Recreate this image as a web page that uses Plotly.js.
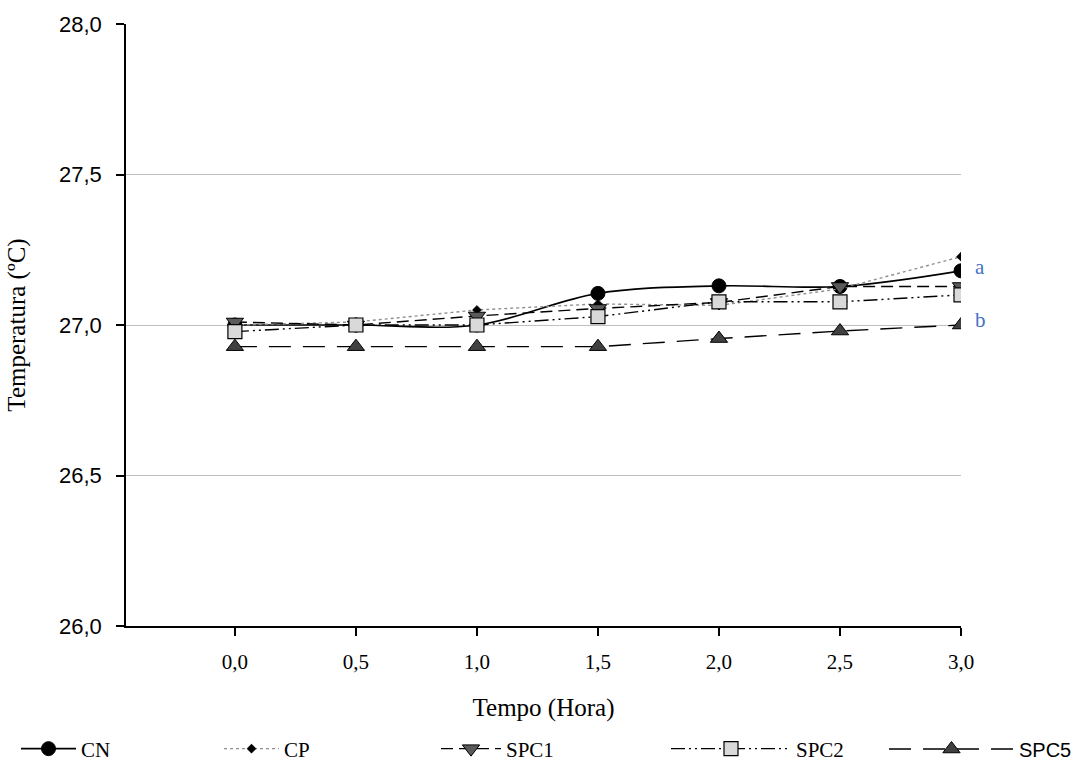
<!DOCTYPE html>
<html>
<head>
<meta charset="utf-8">
<script src="https://cdn.plot.ly/plotly-3.0.1.min.js"></script>
<style>html,body{margin:0;padding:0;background:#fff;}#chart{width:1083px;height:764px;}</style>
</head>
<body>
<div id="chart"></div>
<script>
var tempo = [0, 0.5, 1.0, 1.5, 2.0, 2.5, 3.0];
var CN   = [27.00, 27.00, 27.00, 27.105, 27.13, 27.128, 27.18];
var CP   = [27.00, 27.01, 27.05, 27.07, 27.065, 27.12, 27.227];
var SPC1 = [27.01, 27.00, 27.03, 27.055, 27.075, 27.128, 27.128];
var SPC2 = [26.978, 27.00, 27.00, 27.028, 27.077, 27.077, 27.10];
var SPC5 = [26.928, 26.928, 26.928, 26.928, 26.955, 26.98, 27.00];
var seriesNames = ['CN', 'CP', 'SPC1', 'SPC2', 'SPC5'];
var xTicks = [0, 0.5, 1.0, 1.5, 2.0, 2.5, 3.0];
var yTicks = [26.0, 26.5, 27.0, 27.5, 28.0];
var letters = ['a', 'b'];
var letterY = [27.193, 27.017];

var serif = 'Liberation Serif, Times New Roman, serif';
var sans = 'Liberation Sans, Arial, sans-serif';

var traces = [
  {x: tempo, y: CN, name: seriesNames[0], legend: 'legend', mode: 'lines+markers',
   line: {color: '#000', width: 1.6, shape: 'spline', smoothing: 1},
   marker: {symbol: 'circle', size: 14, color: '#000', line: {color: '#000', width: 1}}},
  {x: tempo, y: CP, name: seriesNames[1], legend: 'legend2', mode: 'lines+markers',
   line: {color: '#909090', width: 1.4, dash: 'dot'},
   marker: {symbol: 'diamond', size: 7, color: '#000', line: {color: '#000', width: 0.5}}},
  {x: tempo, y: SPC1, name: seriesNames[2], legend: 'legend3', mode: 'lines+markers',
   line: {color: '#000', width: 1.4, dash: '12px,6px'},
   marker: {symbol: 'triangle-down', size: 15, color: '#5a5a5a', line: {color: '#000', width: 1}}},
  {x: tempo, y: SPC2, name: seriesNames[3], legend: 'legend4', mode: 'lines+markers',
   line: {color: '#000', width: 1.4, dash: '14px,4px,2px,4px,2px,4px'},
   marker: {symbol: 'square', size: 14, color: '#d9d9d9', line: {color: '#000', width: 1.2}}},
  {x: tempo, y: SPC5, name: seriesNames[4], legend: 'legend5', mode: 'lines+markers',
   line: {color: '#000', width: 1.4, dash: '22px,12px'},
   marker: {symbol: 'triangle-up', size: 15, color: '#404040', line: {color: '#000', width: 1}}}
];

var annotations = letters.map(function (t, i) {
  return {x: 3.0, y: letterY[i], xref: 'x', yref: 'y', text: t, showarrow: false,
          xanchor: 'left', xshift: 12, font: {family: serif, size: 21, color: '#4472C4'}};
});

function leg(xpx, fam, size, iw) {
  return {orientation: 'h', xref: 'container', yref: 'container',
          x: xpx / 1083, xanchor: 'left', y: 1 - 749 / 764, yanchor: 'middle',
          bgcolor: 'rgba(0,0,0,0)', borderwidth: 0, itemwidth: iw,
          font: {family: fam, size: size, color: '#000'}};
}

var layout = {
  width: 1083, height: 764,
  margin: {l: 126, r: 122, t: 24, b: 138, autoexpand: false},
  paper_bgcolor: '#fff', plot_bgcolor: '#fff',
  separators: ',.',
  showlegend: true,
  legend: leg(16, serif, 21, 55),
  legend2: leg(219, serif, 21, 55),
  legend3: leg(436, serif, 21, 60),
  legend4: leg(666, serif, 21, 120),
  legend5: leg(884, sans, 20, 125),
  xaxis: {range: [-0.45, 3.0], tickvals: xTicks, tickformat: '.1f',
          showgrid: false, zeroline: false, showline: true, linecolor: '#000', linewidth: 1.5,
          ticks: 'outside', ticklen: 8, tickwidth: 1.5, tickcolor: '#000',
          ticklabelstandoff: 8,
          tickfont: {family: serif, size: 21, color: '#000'},
          title: {text: 'Tempo (Hora)', standoff: 26, font: {family: serif, size: 25, color: '#000'}}},
  yaxis: {range: [26.0, 28.0], tickvals: yTicks, tickformat: '.1f',
          showgrid: true, gridcolor: '#c0c0c0', gridwidth: 1.3, zeroline: false,
          showline: true, linecolor: '#000', linewidth: 1.5,
          ticks: 'outside', ticklen: 8, tickwidth: 1.5, tickcolor: '#000',
          ticklabelstandoff: 10,
          tickfont: {family: sans, size: 22, color: '#000'},
          title: {text: 'Temperatura (ºC)', standoff: 26, font: {family: serif, size: 25, color: '#000'}}},
  annotations: annotations
};

Plotly.newPlot('chart', traces, layout, {displayModeBar: false, responsive: false});
</script>
</body>
</html>
